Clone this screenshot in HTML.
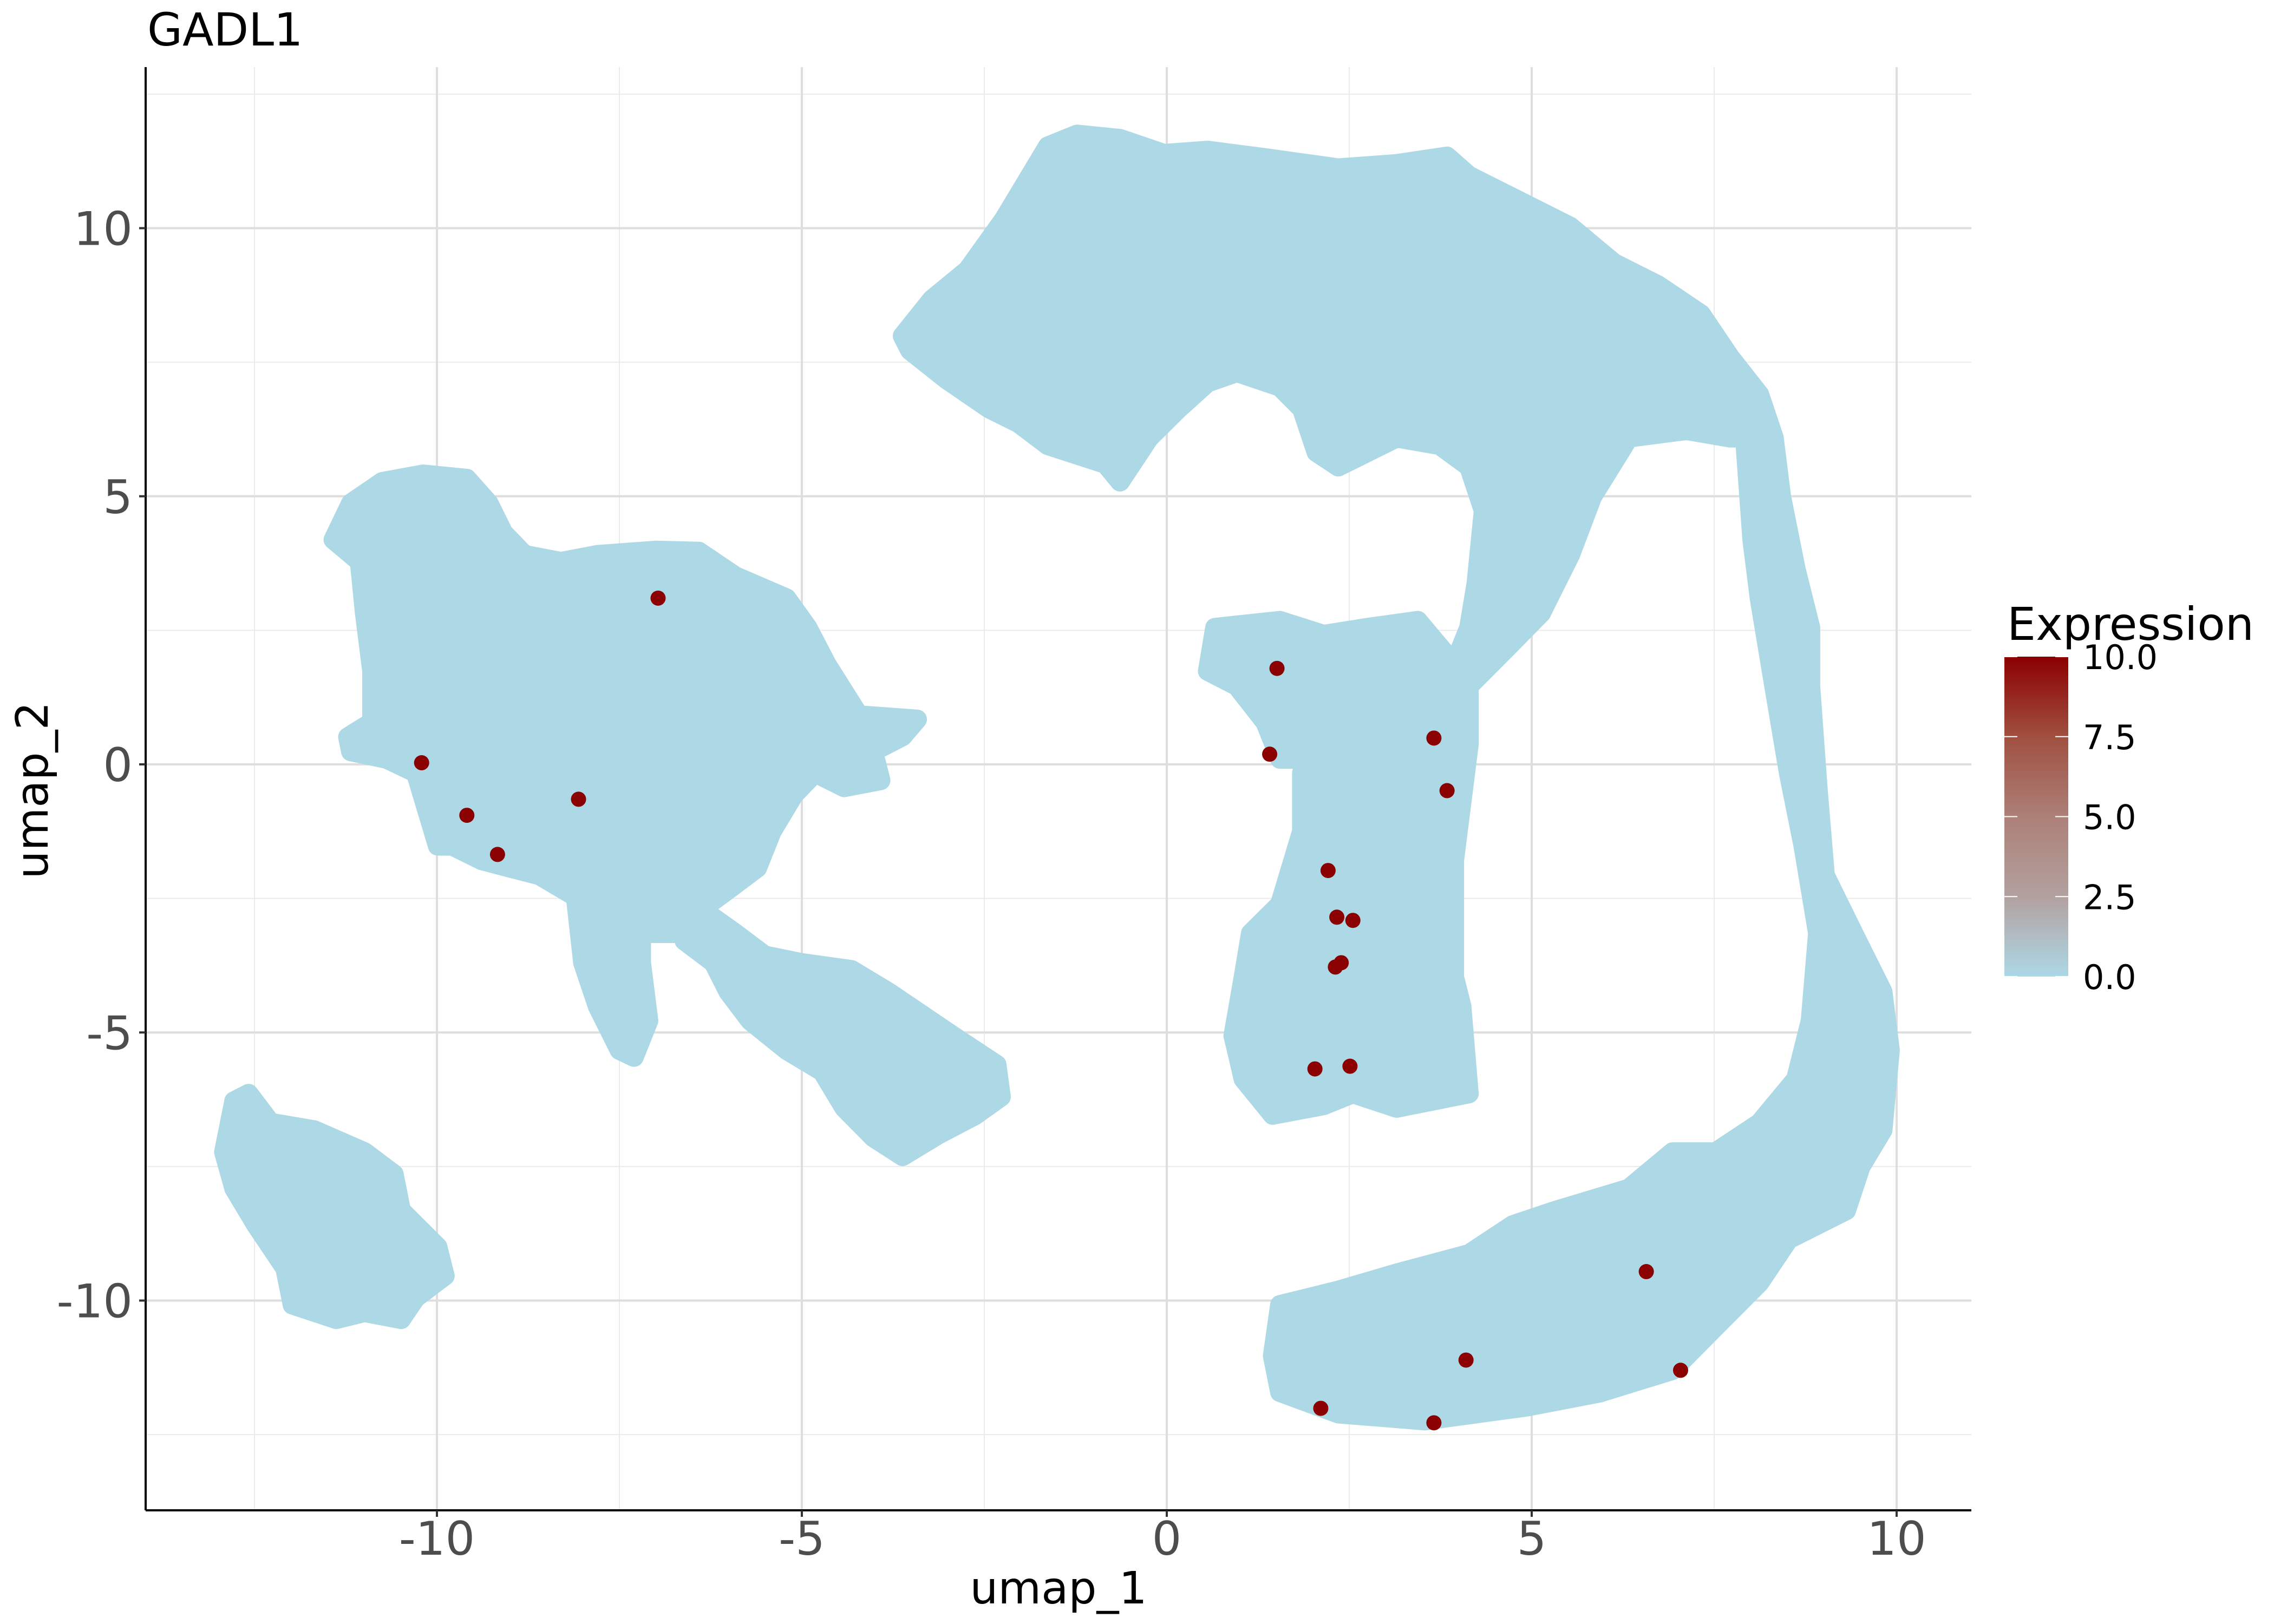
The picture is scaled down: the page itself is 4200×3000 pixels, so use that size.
<!DOCTYPE html>
<html><head><meta charset="utf-8"><style>
html,body{margin:0;padding:0;background:#fff;}
svg{display:block;}
text{font-family:"DejaVu Sans","Liberation Sans",sans-serif;}
</style></head><body>
<svg id="chart" width="4200" height="3000" viewBox="0 0 4200 3000" xmlns="http://www.w3.org/2000/svg">
<defs>
<linearGradient id="expr-grad" x1="0" y1="1" x2="0" y2="0">
<stop offset="0" stop-color="#ADD8E6"/>
<stop offset="0.25" stop-color="#b2a19f"/>
<stop offset="0.5" stop-color="#ad8078"/>
<stop offset="0.75" stop-color="#a05040"/>
<stop offset="1" stop-color="#8B0000"/>
</linearGradient>
</defs>
<rect x="0" y="0" width="4200" height="3000" fill="#fff"/>
<g id="grid"></g>
<g id="clusters"></g>
<g id="points"></g>
<g id="axes"></g>
<text x="272" y="84" font-size="84" fill="#000">GADL1</text>
<text x="1955" y="2962" font-size="82" fill="#000" text-anchor="middle">umap_1</text>
<text x="0" y="0" font-size="82" fill="#000" text-anchor="middle" transform="translate(88,1460) rotate(-90)">umap_2</text>
<g>
<text x="3707" y="1182" font-size="84" fill="#000">Expression</text>
<rect x="3702" y="1213" width="118" height="591" fill="url(#expr-grad)"/>
<g id="legend-ticks"></g>
</g>
</svg>
<script>
// Axis ranges / tick labels
const xTicks = [-10, -5, 0, 5, 10];
const yTicks = [-10, -5, 0, 5, 10];
const xMinor = [-12.5, -7.5, -2.5, 2.5, 7.5];
const yMinor = [-12.5, -7.5, -2.5, 2.5, 7.5, 12.5];
const legendTicks = [0, 2.5, 5, 7.5, 10];
const legendLabels = ["0.0", "2.5", "5.0", "7.5", "10.0"];

// Cluster outlines (umap_1, umap_2)
const clusterLeftX = [-11.42,-11.18,-10.75,-10.19,-9.59,-9.29,-9.09,-8.80,-8.30,-7.80,-7.00,-6.41,-5.91,-5.21,-4.92,-4.66,-4.22,-3.42,-3.62,-4.02,-3.92,-4.42,-4.82,-5.11,-5.41,-5.61,-6.01,-6.41,-6.61,-7.20,-7.20,-7.10,-7.30,-7.50,-7.80,-8.00,-8.10,-8.60,-9.00,-9.39,-9.79,-9.99,-10.29,-10.69,-11.18,-11.22,-10.89,-10.89,-10.99,-11.06];
const clusterLeftY = [4.19,4.87,5.27,5.41,5.33,4.87,4.32,3.91,3.78,3.91,3.99,3.97,3.51,3.10,2.55,1.87,0.92,0.84,0.52,0.24,-0.30,-0.43,-0.16,-0.57,-1.25,-1.93,-2.34,-2.74,-3.15,-3.15,-3.70,-4.78,-5.46,-5.33,-4.51,-3.70,-2.47,-2.07,-1.93,-1.79,-1.52,-1.52,-0.16,0.10,0.24,0.51,0.79,1.74,2.82,3.78];
const clusterArmX = [-6.61,-5.91,-5.51,-5.01,-4.32,-3.82,-2.93,-2.33,-2.27,-2.63,-3.12,-3.62,-4.02,-4.42,-4.72,-5.21,-5.71,-6.01,-6.21,-6.61];
const clusterArmY = [-2.47,-3.15,-3.56,-3.70,-3.83,-4.24,-5.06,-5.60,-6.20,-6.55,-6.90,-7.31,-6.96,-6.41,-5.73,-5.33,-4.78,-4.24,-3.70,-3.29];
const clusterSmallX = [-12.78,-12.58,-12.28,-11.68,-10.99,-10.59,-10.49,-9.99,-9.89,-10.29,-10.49,-10.99,-11.38,-11.98,-12.08,-12.48,-12.78,-12.92];
const clusterSmallY = [-6.28,-6.14,-6.68,-6.82,-7.23,-7.64,-8.32,-9.00,-9.54,-9.95,-10.35,-10.22,-10.35,-10.08,-9.40,-8.59,-7.91,-7.23];
const clusterMainX = [-3.62,-3.22,-2.73,-2.23,-1.63,-1.23,-0.64,-0.04,0.56,1.35,2.35,3.15,3.84,4.14,4.74,5.53,6.13,6.73,7.32,7.72,8.12,8.32,8.42,8.62,8.82,8.82,8.92,9.02,9.41,9.81,9.91,9.81,9.51,9.31,8.52,8.12,7.52,6.93,5.93,4.94,3.54,2.35,1.55,1.45,1.55,2.35,3.15,4.14,4.74,5.33,6.33,6.93,7.52,8.12,8.62,8.82,8.92,8.72,8.52,8.32,8.12,8.02,7.92,7.72,7.12,6.33,5.83,5.53,5.13,4.74,4.14,4.14,3.94,3.94,4.04,4.14,3.15,2.55,2.15,1.45,1.05,0.91,1.05,1.15,1.55,1.85,1.85,2.05,2.35,1.55,1.35,0.96,0.56,0.66,1.55,1.85,2.15,2.75,3.44,3.94,4.14,4.24,4.34,4.14,3.74,3.15,2.35,2.05,1.85,1.55,0.96,0.56,0.16,-0.24,-0.64,-0.84,-1.63,-2.03,-2.43,-3.02,-3.52];
const clusterMainY = [7.99,8.67,9.22,10.17,11.53,11.75,11.67,11.39,11.45,11.31,11.12,11.20,11.34,10.98,10.57,10.03,9.35,8.94,8.40,7.59,6.90,6.09,5.00,3.64,2.55,1.46,-0.43,-2.07,-3.15,-4.24,-5.33,-6.82,-7.50,-8.32,-8.86,-9.67,-10.49,-11.30,-11.72,-11.98,-12.24,-12.11,-11.71,-11.03,-10.08,-9.81,-9.49,-9.13,-8.59,-8.32,-7.91,-7.23,-7.23,-6.69,-5.87,-4.78,-3.15,-1.52,-0.16,1.46,3.10,4.19,6.09,6.09,6.23,6.09,4.99,3.91,2.82,2.28,1.46,0.37,-1.79,-3.97,-4.51,-6.14,-6.41,-6.14,-6.36,-6.54,-5.87,-5.06,-3.97,-3.15,-2.61,-1.25,-0.16,0.10,0.10,0.10,0.78,1.46,1.74,2.55,2.68,2.55,2.42,2.55,2.68,1.87,2.55,3.37,4.73,5.55,5.95,6.09,5.55,5.82,6.63,7.04,7.31,7.12,6.63,6.09,5.27,5.60,5.95,6.36,6.63,7.18,7.72];

// Expressing cells (red points)
const hitX = [-6.97,-10.21,-9.59,-9.17,-8.06,1.51,1.41,3.66,3.84,2.21,2.33,2.55,2.39,2.31,2.03,2.51,6.57,7.04,4.10,2.11,3.66];
const hitY = [3.10,0.03,-0.95,-1.68,-0.65,1.79,0.19,0.49,-0.49,-1.98,-2.85,-2.91,-3.70,-3.78,-5.68,-5.63,-9.46,-11.30,-11.11,-12.01,-12.28];

const NS = "http://www.w3.org/2000/svg";
const X0 = 2155, XU = 134.8, Y0 = 1412, YU = 99.05;
const PL = 269, PR = 3641, PT = 124, PB = 2790;
const sx = v => X0 + XU * v;
const sy = v => Y0 - YU * v;
function mk(tag, attrs, parent) {
  const el = document.createElementNS(NS, tag);
  for (const k in attrs) el.setAttribute(k, attrs[k]);
  parent.appendChild(el);
  return el;
}
const grid = document.getElementById('grid');
xMinor.forEach(v => {
  const l = mk('line', {x1: sx(v), x2: sx(v), y1: PT, y2: PB, stroke: '#ebebeb', 'stroke-width': 2}, grid);
  
  
});
yMinor.forEach(v => {
  const l = mk('line', {x1: PL, x2: PR, y1: sy(v), y2: sy(v), stroke: '#ebebeb', 'stroke-width': 2}, grid);
  
  
});
xTicks.forEach(v => {
  const l = mk('line', {x1: sx(v), x2: sx(v), y1: PT, y2: PB, stroke: '#dedede', 'stroke-width': 4}, grid);
  
  
});
yTicks.forEach(v => {
  const l = mk('line', {x1: PL, x2: PR, y1: sy(v), y2: sy(v), stroke: '#dedede', 'stroke-width': 4}, grid);
  
  
});

const cl = document.getElementById('clusters');
function drawCluster(xs, ys, name) {
  const pts = xs.map((x, i) => sx(x).toFixed(1) + ',' + sy(ys[i]).toFixed(1)).join(' ');
  const p = mk('polygon', {points: pts, fill: '#ADD8E6', stroke: '#ADD8E6', 'stroke-width': 36, 'stroke-linejoin': 'round'}, cl);
  
  
}
drawCluster(clusterLeftX, clusterLeftY, 'cluster-left');
drawCluster(clusterArmX, clusterArmY, 'cluster-arm');
drawCluster(clusterSmallX, clusterSmallY, 'cluster-small');
drawCluster(clusterMainX, clusterMainY, 'cluster-main');

const pg = document.getElementById('points');
hitX.forEach((x, i) => {
  const c = mk('circle', {cx: sx(x), cy: sy(hitY[i]), r: 14, fill: '#8B0000'}, pg);
  
  
});

const ax = document.getElementById('axes');
const xl = mk('line', {x1: PL, x2: PR, y1: PB, y2: PB, stroke: '#000', 'stroke-width': 4}, ax);


const yl = mk('line', {x1: PL, x2: PL, y1: PT, y2: PB, stroke: '#000', 'stroke-width': 4}, ax);


xTicks.forEach(v => {
  const t = mk('line', {x1: sx(v), x2: sx(v), y1: PB, y2: PB + 12, stroke: '#333', 'stroke-width': 4}, ax);
  
  
  const tx = mk('text', {x: sx(v), y: 2872, 'font-size': 86, fill: '#4d4d4d', 'text-anchor': 'middle'}, ax);
  tx.textContent = String(v);
  
  
});
yTicks.forEach(v => {
  const t = mk('line', {x1: PL - 12, x2: PL, y1: sy(v), y2: sy(v), stroke: '#333', 'stroke-width': 4}, ax);
  
  
  const tx = mk('text', {x: 245, y: sy(v) + 31, 'font-size': 86, fill: '#4d4d4d', 'text-anchor': 'end'}, ax);
  tx.textContent = String(v);
  
  
});

const lt = document.getElementById('legend-ticks');
const LB = 1804, LH = 591;
legendTicks.forEach((v, i) => {
  const y = LB - LH * v / 10;
  const a = mk('line', {x1: 3702, x2: 3726, y1: y, y2: y, stroke: '#fff', 'stroke-width': 2}, lt);
  
  
  const b = mk('line', {x1: 3796, x2: 3820, y1: y, y2: y, stroke: '#fff', 'stroke-width': 2}, lt);
  
  
  const tx = mk('text', {x: 3847, y: y + 23, 'font-size': 62, fill: '#000'}, lt);
  tx.textContent = legendLabels[i];
  
  
});
</script>
</body></html>
